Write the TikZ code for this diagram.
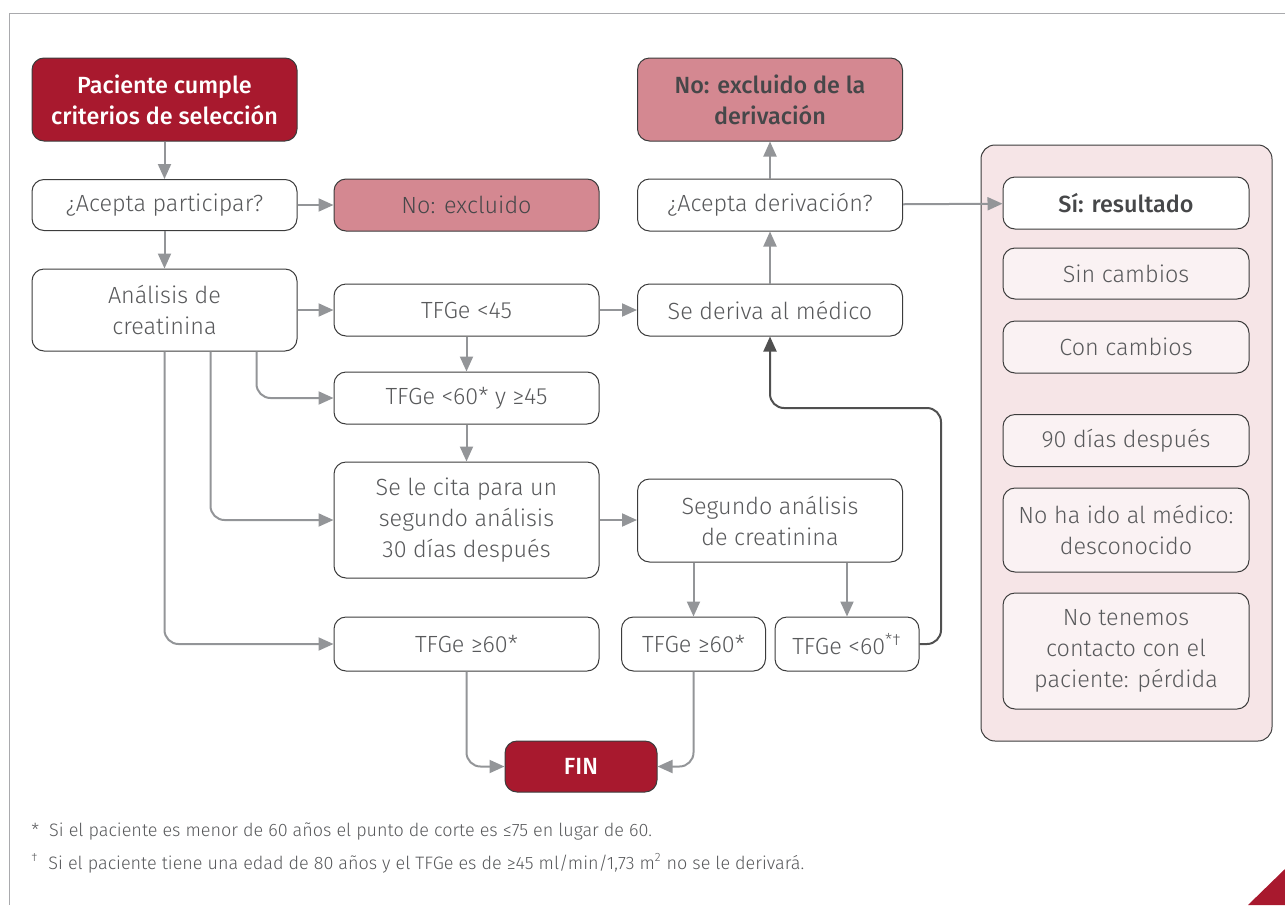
\documentclass[tikz,border=0pt]{standalone}
\usepackage{fontspec}
\setmainfont{Fira Sans}[UprightFont={* Light}, BoldFont={* Medium}]
\usepackage{tikz}
\usetikzlibrary{arrows.meta, positioning, calc}

\definecolor{darkred}{HTML}{A8192E}
\definecolor{pinkfill}{HTML}{D48891}
\definecolor{panelfill}{HTML}{F6E5E7}
\definecolor{lightfill}{HTML}{FAF2F3}
\definecolor{arrowgray}{HTML}{939598}
\definecolor{textgray}{HTML}{58595B}
\definecolor{boxline}{HTML}{3C3C3C}

\tikzset{
	box/.style={rectangle, rounded corners=6pt, draw=boxline, line width=0.5pt, fill=white, text=textgray, align=center, inner sep=2pt, font=\fontsize{11.7}{15.5}\selectfont},
	wide/.style={minimum width=132.5pt},
	narrow/.style={minimum width=72pt},
	redbox/.style={box, fill=darkred, text=white, font=\fontsize{11.7}{15.5}\selectfont\bfseries},
	pinkbox/.style={box, fill=pinkfill, text=textgray!80!black},
	resbox/.style={box, fill=lightfill, minimum width=123pt},
	flow/.style={-{Triangle[length=7.5pt, width=6.5pt]}, draw=arrowgray, line width=1pt, rounded corners=7pt},
	back/.style={flow, draw=boxline!90},
	note/.style={anchor=west, text=textgray, inner sep=0pt, font=\fontsize{9}{10}\selectfont}
}

\begin{document}
\begin{tikzpicture}[x=0.5pt, y=-0.5pt]
	\useasboundingbox (0,0) rectangle (1285,905);
	\draw[arrowgray!80, line width=0.5pt] (9,905) -- (9,13) -- (1285,13);
	\fill[darkred] (1248,905) -- (1285,869) -- (1285,905) -- cycle;

	% left column
	\node[redbox, wide, minimum height=41.5pt] (paciente) at (164.5,99.5) {Paciente cumple\\criterios de selección};
	\node[box, wide, minimum height=25.5pt] (acepta) at (164.5,205) {¿Acepta participar?};
	\node[pinkbox, wide, minimum height=26pt] (excluido) at (466.5,205) {No: excluido};
	\node[box, wide, minimum height=41pt] (analisis) at (164.5,310) {Análisis de\\creatinina};

	% second column
	\node[box, wide, minimum height=26pt] (tfgeA) at (466.5,310) {TFGe <45};
	\node[box, wide, minimum height=26pt] (tfgeB) at (466.5,398) {TFGe <60* y ≥45};
	\node[box, wide, minimum height=58pt] (cita) at (466.5,520) {Se le cita para un\\segundo análisis\\30 días después};
	\node[box, wide, minimum height=27pt] (tfgeC) at (466.5,644) {TFGe ≥60*};

	% third column
	\node[pinkbox, wide, minimum height=41.5pt, font=\fontsize{11.7}{15.5}\selectfont\bfseries] (exderiv) at (770,99.5) {No: excluido de la\\derivación};
	\node[box, wide, minimum height=26pt] (aceptaderiv) at (770,205) {¿Acepta derivación?};
	\node[box, wide, minimum height=26pt] (deriva) at (770,310) {Se deriva al médico};
	\node[box, wide, minimum height=41.5pt] (segundo) at (770,520.5) {Segundo análisis\\de creatinina};
	\node[box, narrow, minimum height=27pt] (tfgeD) at (693.5,644) {TFGe ≥60*};
	\node[box, narrow, minimum height=27pt] (tfgeE) at (847,644) {TFGe <60\textsuperscript{*†}};
	\node[redbox, minimum width=76pt, minimum height=25.5pt] (fin) at (581,766.5) {FIN};

	% results panel
	\node[rectangle, rounded corners=7pt, draw=boxline, line width=0.5pt, fill=panelfill, minimum width=145.5pt, minimum height=298pt] (panel) at (1126.5,443) {};
	\node[box, minimum width=123pt, minimum height=26pt, text=textgray!80!black, font=\fontsize{11.7}{15.5}\selectfont\bfseries] (resultado) at (1126,203) {Sí: resultado};
	\node[resbox, minimum height=25.5pt] (sin) at (1126,273.5) {Sin cambios};
	\node[resbox, minimum height=26pt] (con) at (1126,347) {Con cambios};
	\node[resbox, minimum height=26pt] (noventa) at (1126,440.5) {90 días después};
	\node[resbox, minimum height=42pt] (noido) at (1126,530) {No ha ido al médico:\\desconocido};
	\node[resbox, minimum height=58pt] (perdida) at (1126,651) {No tenemos\\contacto con el\\paciente: pérdida};

	% connectors
	\draw[flow] (paciente) -- (acepta);
	\draw[flow] (acepta) -- (excluido);
	\draw[flow] (acepta) -- (analisis);
	\draw[flow] (analisis.east |- tfgeA) -- (tfgeA);
	\draw[flow] ([xshift=46pt]analisis.south) |- (tfgeB.west);
	\draw[flow] ([xshift=23pt]analisis.south) |- (cita.west);
	\draw[flow] (analisis.south) |- (tfgeC.west);
	\draw[flow] (tfgeA) -- (tfgeB);
	\draw[flow] (tfgeB) -- (cita);
	\draw[flow] (tfgeA) -- (deriva);
	\draw[flow] (cita) -- (segundo.west |- cita);
	\draw[flow] (segundo.south -| tfgeD) -- (tfgeD);
	\draw[flow] (segundo.south -| tfgeE) -- (tfgeE);
	\coordinate (loop) at (941,408);
	\draw[back] (tfgeE.east) -| (loop) -| (deriva.south);
	\draw[flow] (deriva) -- (aceptaderiv);
	\draw[flow] (aceptaderiv) -- (exderiv);
	\draw[flow] (aceptaderiv) -- (resultado);
	\draw[flow] (tfgeC.south) |- (fin.west);
	\draw[flow] (tfgeD.south) |- (fin.east);

	% footnotes
	\node[note] (notaA) at (31,832) {*\hspace{5pt}Si el paciente es menor de 60 años el punto de corte es ≤75 en lugar de 60.};
	\node[note] (notaB) at (31,863) {\textsuperscript{†}\hspace{5pt}Si el paciente tiene una edad de 80 años y el TFGe es de ≥45 ml/min/1,73 m\textsuperscript{2} no se le derivará.};
\end{tikzpicture}
\end{document}
